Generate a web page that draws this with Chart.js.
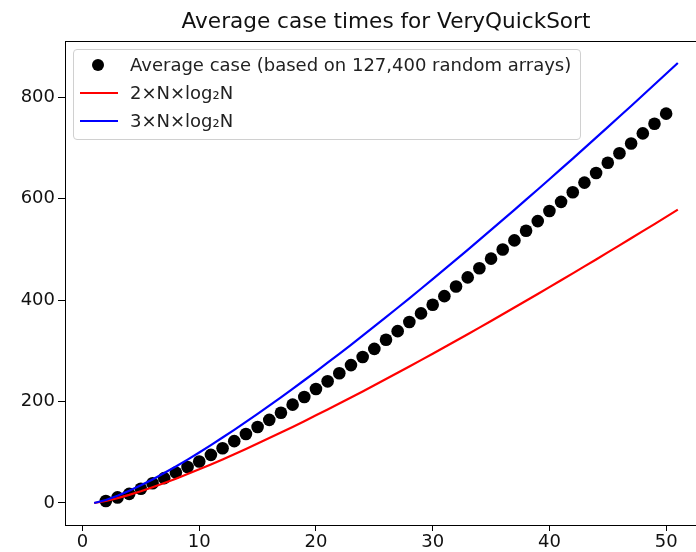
<!DOCTYPE html>
<html>
<head>
<meta charset="utf-8">
<script src="https://cdn.jsdelivr.net/npm/chart.js@4.4.1/dist/chart.umd.min.js"></script>
<style>
  html, body { margin: 0; padding: 0; background: #fff; overflow: hidden; }
  #wrap { position: relative; width: 696px; height: 552px; overflow: hidden; }
  #box { position: absolute; left: 0; top: 0; width: 720px; height: 552px; }
  #legend {
    position: absolute; left: 73px; top: 49px; width: 506px; height: 89px;
    border: 1px solid #d0d0d0; border-radius: 4px; background: rgba(255,255,255,0.8);
    font-family: "DejaVu Sans", sans-serif; font-size: 18px; color: #222;
  }
  .row { position: absolute; left: 0; height: 28px; line-height: 28px; }
  .row span { position: absolute; left: 56px; white-space: nowrap; }
  .mark { position: absolute; }
</style>
</head>
<body>
<div id="wrap">
  <div id="box"><canvas id="canvas" width="720" height="552"></canvas></div>
  <div id="legend"></div>
</div>
<script>
const canvas = document.getElementById('canvas');
const ctx = canvas.getContext('2d');

const sizes = [2, 3, 4, 5, 6, 7, 8, 9, 10, 11, 12, 13, 14, 15, 16, 17, 18, 19, 20, 21, 22, 23, 24, 25, 26,
  27, 28, 29, 30, 31, 32, 33, 34, 35, 36, 37, 38, 39, 40, 41, 42, 43, 44, 45, 46, 47, 48, 49, 50];
const avgTimes = [4, 11, 18, 28, 39, 49, 60, 71, 82, 95, 108, 122, 136, 150, 164, 178, 194, 209, 225, 240,
  256, 272, 288, 304, 322, 339, 357, 374, 391, 408, 427, 445, 463, 482, 500, 518, 537, 556, 576, 594,
  613, 632, 651, 671, 690, 709, 729, 748, 768];

// reference curves
const curveN = [1, 2, 3, 4, 5, 6, 7, 8, 9, 10, 11, 12, 13, 14, 15, 16, 17, 18, 19, 20, 21, 22, 23, 24, 25, 26,
  27, 28, 29, 30, 31, 32, 33, 34, 35, 36, 37, 38, 39, 40, 41, 42, 43, 44, 45, 46, 47, 48, 49, 50, 51];
const twoNlogN = [0, 4, 9.5, 16, 23.2, 31, 39.3, 48, 57.1, 66.4, 76.1, 86, 96.2, 106.6, 117.2, 128, 139, 150.1,
  161.4, 172.9, 184.5, 196.2, 208.1, 220.1, 232.2, 244.4, 256.8, 269.2, 281.8, 294.4, 307.2, 320, 332.9,
  345.9, 359.1, 372.2, 385.5, 398.8, 412.3, 425.8, 439.3, 453, 466.7, 480.4, 494.3, 508.2, 522.1, 536.2,
  550.2, 564.4, 578.6];
const threeNlogN = [0, 6, 14.3, 24, 34.8, 46.5, 59, 72, 85.6, 99.7, 114.2, 129.1, 144.3, 159.9, 175.8, 192,
  208.5, 225.2, 242.1, 259.3, 276.7, 294.3, 312.1, 330.1, 348.3, 366.6, 385.1, 403.8, 422.6, 441.6, 460.7,
  480, 499.4, 518.9, 538.6, 558.4, 578.2, 598.3, 618.4, 638.6, 659, 679.4, 700, 720.6, 741.4, 762.3,
  783.2, 804.2, 825.4, 846.6, 867.9];

const xTicks = [0, 10, 20, 30, 40, 50];
const yTicks = [0, 200, 400, 600, 800];

const title = 'Average case times for VeryQuickSort';
const labels = ['Average case (based on 127,400 random arrays)', '2×N×log₂N', '3×N×log₂N'];
const font = '"DejaVu Sans", sans-serif';

function toPoints(xs, ys) {
    return xs.map((x, i) => ({ x: x, y: ys[i] }));
}

// closed axes box + title centred over the axes
const frame = {
    id: 'frame',
    afterDraw(chart) {
        const a = chart.chartArea;
        const c = chart.ctx;
        c.save();
        c.strokeStyle = '#000';
        c.lineWidth = 1;
        c.strokeRect(Math.round(a.left) + 0.5, Math.round(a.top) + 0.5,
            Math.round(a.right - a.left), Math.round(a.bottom - a.top));
        c.fillStyle = '#111';
        c.font = '21.6px ' + font;
        c.textAlign = 'center';
        c.textBaseline = 'middle';
        c.fillText(title, (a.left + a.right) / 2, 22);
        c.restore();
    }
};

const chart = new Chart(ctx, {
    type: 'scatter',
    data: {
        datasets: [
            {
                label: labels[0],
                data: toPoints(sizes, avgTimes),
                backgroundColor: '#000',
                borderWidth: 0,
                pointRadius: 6.3,
                showLine: false,
                order: 3
            },
            {
                label: labels[1],
                data: toPoints(curveN, twoNlogN),
                borderColor: '#ff0000',
                borderWidth: 2.2,
                pointRadius: 0,
                showLine: true,
                order: 2
            },
            {
                label: labels[2],
                data: toPoints(curveN, threeNlogN),
                borderColor: '#0000ff',
                borderWidth: 2.2,
                pointRadius: 0,
                showLine: true,
                order: 1
            }
        ]
    },
    options: {
        responsive: false,
        animation: false,
        layout: { padding: { left: 0, right: 13, top: 41, bottom: 0 } },
        plugins: {
            legend: { display: false },
            tooltip: { enabled: false },
            title: { display: false }
        },
        scales: {
            x: {
                type: 'linear',
                min: -1.5,
                max: 53.5,
                afterBuildTicks: s => { s.ticks = xTicks.map(v => ({ value: v })); },
                afterFit: s => { s.height = 27; },
                grid: { drawOnChartArea: false, drawTicks: true, tickLength: 6, color: '#000' },
                border: { display: true, color: '#000' },
                ticks: { color: '#111', font: { family: font, size: 18 }, padding: 1, maxRotation: 0 }
            },
            y: {
                type: 'linear',
                min: -43.4,
                max: 911.3,
                afterBuildTicks: s => { s.ticks = yTicks.map(v => ({ value: v })); },
                afterFit: s => { s.width = 65; },
                grid: { drawOnChartArea: false, drawTicks: true, tickLength: 7, color: '#000' },
                border: { display: true, color: '#000' },
                ticks: { color: '#111', font: { family: font, size: 18 }, padding: 3 }
            }
        }
    },
    plugins: [frame]
});

// legend drawn inside the axes like the original
function buildLegend() {
    const legend = document.getElementById('legend');
    const tops = [1, 29, 57];
    chart.data.datasets.forEach((ds, i) => {
        const row = document.createElement('div');
        row.className = 'row';
        row.style.top = tops[i] + 'px';
        const mark = document.createElement('div');
        mark.className = 'mark';
        if (ds.showLine) {
            mark.style.left = '6px';
            mark.style.top = '13px';
            mark.style.width = '38px';
            mark.style.height = '2px';
            mark.style.background = ds.borderColor;
        } else {
            mark.style.left = '18px';
            mark.style.top = '8px';
            mark.style.width = '12px';
            mark.style.height = '12px';
            mark.style.borderRadius = '50%';
            mark.style.background = ds.backgroundColor;
        }
        const text = document.createElement('span');
        text.textContent = ds.label;
        row.appendChild(mark);
        row.appendChild(text);
        legend.appendChild(row);
    });
}

buildLegend();
</script>
</body>
</html>
